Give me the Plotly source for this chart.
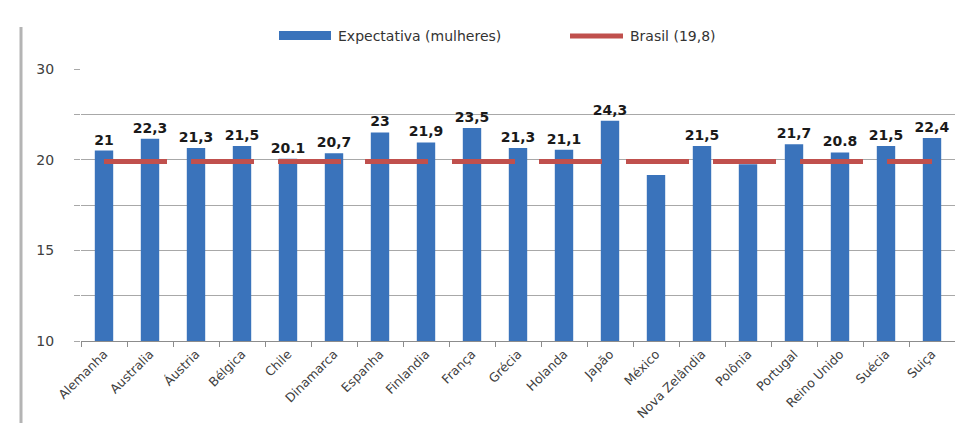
import plotly.graph_objects as go

countries = ["Alemanha", "Australia", "Áustria", "Bélgica", "Chile", "Dinamarca", "Espanha",
             "Finlandia", "França", "Grécia", "Holanda", "Japão", "México", "Nova Zelândia",
             "Polônia", "Portugal", "Reino Unido", "Suécia", "Suiça"]
expectativa = [21, 22.3, 21.3, 21.5, 20.1, 20.7, 23, 21.9, 23.5, 21.3, 21.1, 24.3, 18.3, 21.5,
               19.5, 21.7, 20.8, 21.5, 22.4]
value_labels = ["21", "22,3", "21,3", "21,5", "20.1", "20,7", "23", "21,9", "23,5", "21,3", "21,1",
                "24,3", "", "21,5", "", "21,7", "20.8", "21,5", "22,4"]
brasil = [19.8] * len(countries)
y_tickvals = [0, 5, 10, 15, 20, 25, 30]
y_ticktext = ["10", "", "15", "", "20", "", "30"]

BLUE = "#3a73bb"
RED = "#c0504d"

fig = go.Figure()
fig.add_trace(go.Bar(
    x=countries, y=expectativa, name="Expectativa (mulheres)",
    marker=dict(color=BLUE, line=dict(width=0)),
    text=value_labels, textposition="outside", cliponaxis=False, constraintext="none",
    textfont=dict(family="DejaVu Sans", size=14, color="#1a1a1a", weight="bold"),
    showlegend=False, hoverinfo="skip",
))
fig.add_trace(go.Scatter(
    x=countries, y=brasil, name="Brasil (19,8)", mode="lines",
    line=dict(color=RED, width=5, dash="63px,24px"),
    showlegend=False, hoverinfo="skip",
))

W, H = 963, 423
L, R, T, B = 73, 16, 61, 90
pw, ph = W - L - R, H - T - B

def px(x):
    return (x - L) / pw

def py(y):
    return (H - B - y) / ph

shapes = [
    dict(type="rect", xref="paper", yref="paper", x0=px(271), x1=px(323), y0=py(32), y1=py(23),
         fillcolor=BLUE, line=dict(width=0)),
    dict(type="line", xref="paper", yref="paper", x0=px(562), x1=px(615), y0=py(28), y1=py(28),
         line=dict(color=RED, width=5)),
    dict(type="line", xref="paper", yref="paper", x0=px(13), x1=px(13), y0=py(19), y1=py(423),
         line=dict(color="#b4b4b4", width=3)),
]
annotations = [
    dict(text="Expectativa (mulheres)", xref="paper", yref="paper", x=px(328), y=py(27.5),
         xanchor="left", yanchor="middle", showarrow=False,
         font=dict(family="DejaVu Sans", size=14, color="#333333")),
    dict(text="Brasil (19,8)", xref="paper", yref="paper", x=px(620), y=py(27.5),
         xanchor="left", yanchor="middle", showarrow=False,
         font=dict(family="DejaVu Sans", size=14, color="#333333")),
]

fig.update_layout(
    width=W, height=H,
    margin=dict(l=L, r=R, t=T, b=B, autoexpand=False),
    paper_bgcolor="white", plot_bgcolor="white",
    bargap=0.6,
    shapes=shapes, annotations=annotations,
    xaxis=dict(
        tickangle=-45, ticks="outside", tickson="boundaries", ticklen=5,
        tickcolor="#8c8c8c", showline=True, linecolor="#8c8c8c", linewidth=1,
        showgrid=False, tickfont=dict(family="DejaVu Sans", size=12.5, color="#404040"),
    ),
    yaxis=dict(
        range=[0, 30], tickvals=y_tickvals, ticktext=y_ticktext,
        showgrid=True, gridcolor="#a8a8a8", gridwidth=1, zeroline=False,
        ticks="outside", ticklen=6, tickcolor="#a8a8a8", showline=False,
        ticklabelstandoff=17,
        tickfont=dict(family="DejaVu Sans", size=14, color="#404040"),
    ),
)

fig.write_html("out.html")
